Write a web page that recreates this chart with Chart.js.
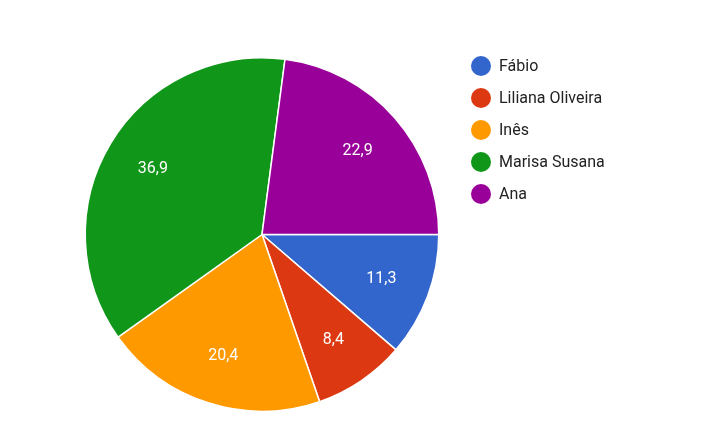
<!DOCTYPE html>
<html lang="pt">
<head>
<meta charset="UTF-8">
<title>Pie</title>
<script src="https://cdn.jsdelivr.net/npm/chart.js"></script>
<style>
  body { margin: 0; background: #fff; font-family: Roboto, sans-serif; }
  #wrap { position: relative; width: 715px; height: 448px; }
  #box { position: absolute; left: 0; top: 0; width: 524px; height: 448px; }
  #legend { position: absolute; left: 471px; top: 55px; list-style: none; margin: 0; padding: 0; }
  #legend li { height: 32px; line-height: 22px; font-size: 16px; color: #222; display: flex; align-items: flex-start; }
  #legend span { display: inline-block; width: 20px; height: 20px; border-radius: 50%; margin-right: 8px; margin-top: 1px; }
</style>
</head>
<body>
<div id="wrap">
  <div id="box"><canvas id="pie"></canvas></div>
  <ul id="legend"></ul>
</div>
<script>
// dados
const names = ['Fábio', 'Liliana Oliveira', 'Inês', 'Marisa Susana', 'Ana'];
const shares = [11.3, 8.4, 20.4, 36.9, 22.9];
const colors = ['#3366cc', '#dc3912', '#ff9900', '#109618', '#990099'];

// legenda à direita
const ul = document.getElementById('legend');
names.forEach((n, i) => {
  const li = document.createElement('li');
  li.innerHTML = '<span style="background:' + colors[i] + '"></span>' + n;
  ul.appendChild(li);
});

// percentagens dentro das fatias
const pctLabels = {
  id: 'pctLabels',
  afterDatasetsDraw(chart) {
    const ctx = chart.ctx;
    ctx.save();
    ctx.font = '16px Roboto, sans-serif';
    ctx.fillStyle = '#fff';
    ctx.textAlign = 'center';
    ctx.textBaseline = 'middle';
    chart.getDatasetMeta(0).data.forEach((arc, i) => {
      const mid = (arc.startAngle + arc.endAngle) / 2;
      const r = arc.outerRadius * 0.72;
      ctx.fillText(shares[i].toFixed(1).replace('.', ','), arc.x + Math.cos(mid) * r, arc.y + Math.sin(mid) * r);
    });
    ctx.restore();
  }
};

new Chart(document.getElementById('pie'), {
  type: 'pie',
  data: {
    labels: names,
    datasets: [{ data: shares, backgroundColor: colors, borderColor: '#fff', borderWidth: 1.5 }]
  },
  options: {
    responsive: true,
    maintainAspectRatio: false,
    animation: false,
    rotation: 90,
    layout: { padding: { top: 57, bottom: 36 } },
    plugins: { legend: { display: false }, tooltip: { enabled: false } }
  },
  plugins: [pctLabels]
});
</script>
</body>
</html>
